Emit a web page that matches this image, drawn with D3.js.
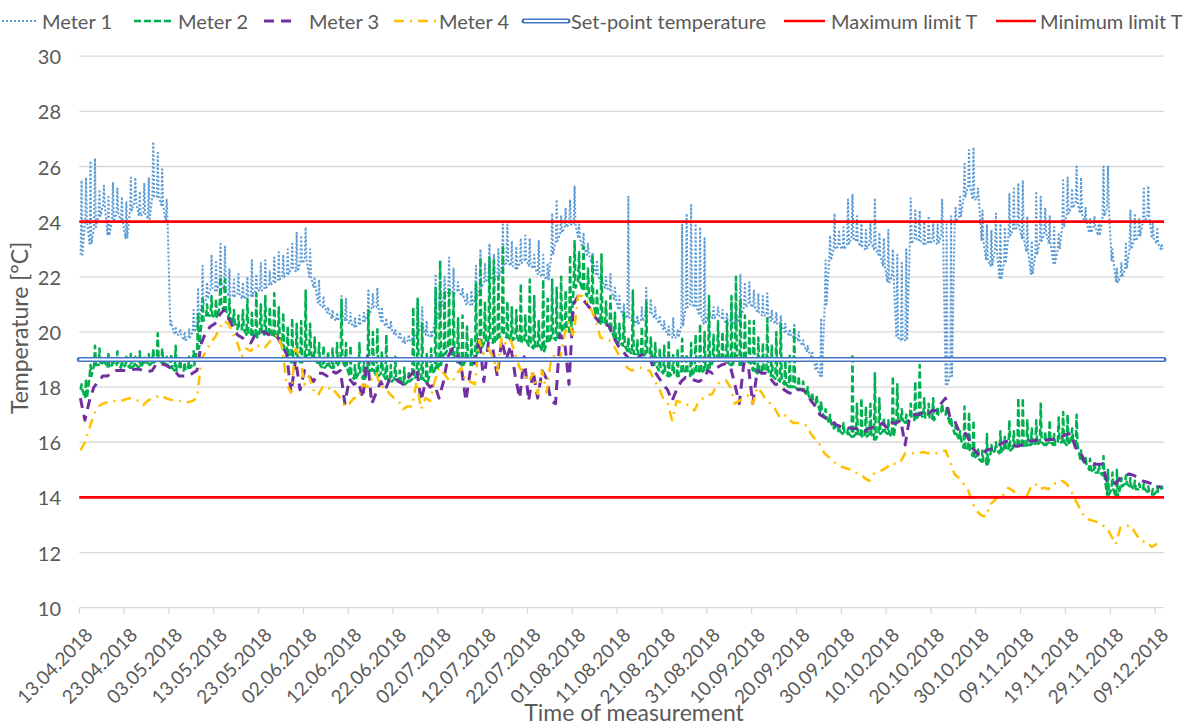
<!DOCTYPE html>
<html>
<head>
<meta charset="utf-8">
<title>Temperature measurements</title>
<script src="https://cdn.jsdelivr.net/npm/d3@7"></script>
<style>
  body { margin: 0; background: #fff; }
  text { font-family: Lato, "Open Sans", sans-serif; fill: #595959; }
</style>
</head>
<body>
<svg id="chart" width="1193" height="728"></svg>
<script>
// daily readings, first day 13.04.2018
const startDate = new Date(Date.UTC(2018, 3, 13));
const endDate = new Date(Date.UTC(2018, 11, 11));

// base reading of each day and the daytime peak
const meter1Low = [
  22.8,24.0,23.2,23.8,24.2,24.6,23.5,24.0,24.3,24.0,
  23.4,24.4,24.7,24.2,24.3,24.1,24.9,24.9,24.6,24.0,
  20.2,19.9,19.9,19.7,19.8,20.0,20.3,21.0,21.2,21.6,
  21.5,21.8,21.5,21.3,21.3,21.4,21.2,21.3,21.3,21.5,
  21.5,21.6,21.7,21.8,21.9,22.0,22.1,22.3,22.2,22.5,
  22.6,22.0,21.6,21.0,20.9,20.7,20.5,20.4,20.6,20.4,
  20.3,20.2,20.3,20.4,20.6,20.9,20.9,20.4,20.2,20.1,
  19.9,19.8,19.6,19.7,19.7,20.0,20.2,19.9,19.8,20.4,
  20.8,21.3,21.4,21.4,21.5,21.3,21.0,21.0,21.2,21.6,
  21.8,22.0,21.9,22.0,22.4,22.5,22.4,22.3,22.5,22.6,
  22.4,22.3,22.1,22.0,21.9,22.8,23.3,23.6,23.8,23.9,
  23.9,23.4,23.0,22.8,22.5,22.1,21.8,21.6,21.5,21.2,
  20.8,20.6,20.5,20.4,20.3,20.4,20.6,20.7,20.5,20.3,
  20.1,19.9,19.8,19.8,20.2,20.9,21.0,20.9,20.6,20.3,
  20.6,20.5,20.6,20.5,20.3,20.4,20.3,20.6,20.9,21.0,
  20.9,20.7,20.6,20.6,20.4,20.3,20.2,20.0,19.9,19.8,
  19.7,19.5,19.3,19.1,18.6,18.4,21.0,22.6,23.0,23.1,
  23.0,23.2,23.4,23.3,23.1,23.0,23.2,23.0,22.8,22.4,
  21.8,22.0,19.8,19.7,19.7,23.2,23.4,23.3,23.2,23.2,
  23.3,23.2,23.5,18.1,18.4,24.0,24.2,24.9,25.3,24.8,
  24.8,23.3,22.6,22.4,23.0,21.9,22.5,23.5,23.7,23.8,
  23.4,22.9,22.1,22.8,23.3,23.6,23.2,22.5,23.0,23.8,
  24.3,24.5,24.7,24.3,24.0,23.6,23.8,23.5,24.2,24.5,
  22.6,21.8,22.0,22.3,23.0,23.3,23.5,24.0,24.2,23.4,
  23.2,23.0
];
const meter1High = [
  25.5,25.6,26.2,26.3,25.1,25.3,24.9,25.4,25.2,24.9,
  24.7,25.6,25.6,25.1,25.4,25.6,26.9,26.5,25.9,24.8,
  20.4,20.2,20.1,20.0,20.1,20.8,21.6,22.4,21.8,22.8,
  22.6,23.2,23.1,22.3,21.9,22.1,21.8,22.0,22.6,22.1,
  22.5,22.6,22.2,22.7,22.9,22.8,23.0,23.2,23.6,23.5,
  23.8,23.0,22.0,21.9,21.3,20.9,20.8,20.7,21.3,21.2,
  20.7,20.5,20.6,20.7,21.5,21.4,21.6,20.9,20.5,20.4,
  20.1,20.0,19.8,19.9,20.0,21.2,20.9,20.4,20.0,22.1,
  22.6,22.0,22.7,22.3,21.8,21.6,21.4,21.5,22.4,23.0,
  22.5,23.2,22.8,23.0,23.9,23.9,23.3,23.1,23.4,23.5,
  23.4,22.8,23.3,22.8,22.5,24.3,24.8,24.2,24.5,24.8,
  25.3,23.9,23.6,23.2,22.9,22.6,22.2,22.0,22.1,21.6,
  21.3,21.0,24.9,20.8,20.6,20.9,21.6,21.2,20.9,20.6,
  20.4,20.2,20.5,20.1,23.9,24.3,24.6,24.0,23.8,23.4,
  21.0,20.9,20.9,20.8,20.7,21.0,20.8,22.1,21.8,21.8,
  21.5,21.4,21.3,21.4,20.8,20.7,20.6,20.3,20.1,20.3,
  20.0,19.7,19.5,19.3,18.9,20.5,22.6,23.5,24.3,23.7,
  23.8,24.8,25.0,24.2,24.0,23.7,24.0,24.85,23.6,23.4,
  23.7,23.0,22.8,22.5,23.0,24.85,24.4,24.4,24.0,24.2,
  24.0,23.9,24.8,23.9,24.2,24.5,24.9,26.1,26.6,26.7,
  25.2,24.4,23.9,23.7,24.3,24.0,23.8,25.0,25.2,25.4,
  25.5,24.2,23.3,25.1,24.9,24.5,24.2,23.8,23.6,25.5,
  25.6,25.2,26.0,25.6,24.5,24.1,24.2,24.0,26.0,26.0,
  23.0,22.3,22.5,23.2,24.4,24.3,24.1,25.2,25.3,24.0,
  23.8,23.2
];
const meter2Low = [
  17.9,17.6,18.4,18.8,18.8,18.9,18.7,18.8,18.8,18.7,
  18.8,18.7,18.8,18.7,18.9,18.8,18.9,19.0,18.9,18.8,
  18.7,18.6,18.7,18.6,18.7,18.8,19.4,20.4,20.6,20.6,
  20.5,20.9,20.8,20.5,20.3,20.1,20.1,19.9,19.9,19.8,
  20.0,19.9,20.0,19.8,19.8,19.4,19.2,18.9,19.0,18.9,
  19.0,19.2,19.0,18.8,18.7,18.8,18.7,18.8,19.0,18.7,
  18.4,18.3,18.5,18.3,18.6,18.6,18.4,18.5,18.3,18.2,
  18.3,18.2,18.1,18.2,18.3,18.4,18.3,18.2,18.5,18.6,
  18.8,19.2,19.4,19.1,18.9,18.8,19.0,18.8,19.2,19.4,
  19.6,19.7,19.6,19.8,19.9,19.8,19.7,19.8,19.6,19.7,
  19.5,19.4,19.5,19.3,19.6,19.8,19.7,20.0,20.2,20.0,
  21.6,21.8,21.5,21.3,21.0,20.6,20.3,20.3,20.1,19.8,
  19.6,19.5,19.3,19.2,19.2,19.1,19.2,19.2,18.8,18.6,
  18.5,18.4,18.5,18.4,18.5,18.6,18.4,18.6,18.5,18.6,
  18.7,18.9,19.0,19.1,18.9,18.8,19.0,18.8,19.0,18.9,
  18.6,18.5,18.6,18.6,18.4,18.3,18.2,18.1,18.0,18.0,
  17.9,17.9,17.7,17.5,17.4,17.1,16.9,16.7,16.5,16.4,
  16.3,16.3,16.2,16.3,16.2,16.2,16.3,16.1,16.3,16.4,
  16.3,16.2,16.8,16.8,16.7,16.9,16.8,17.0,16.9,16.9,
  16.8,17.0,17.1,17.0,16.6,16.3,16.1,15.8,15.7,15.5,
  15.4,15.3,15.2,15.6,15.7,15.6,15.8,15.7,15.8,15.9,
  15.8,15.9,15.9,15.9,16.0,15.9,16.0,15.9,16.0,16.0,
  15.9,16.1,15.9,15.4,15.2,15.0,14.9,14.9,14.8,14.1,
  14.3,14.0,14.4,14.5,14.4,14.3,14.3,14.3,14.2,14.1,
  14.2,14.3
];
const meter2High = [
  18.1,18.3,18.8,19.5,19.4,19.1,19.2,19.1,19.3,19.0,
  19.1,19.2,19.1,19.3,19.1,19.2,19.4,19.95,19.4,19.1,
  19.2,19.5,19.0,18.9,19.1,19.3,20.7,21.2,21.0,21.3,
  21.2,22.0,21.9,21.2,20.8,20.6,20.8,21.2,20.7,21.4,
  21.0,21.3,20.9,21.4,20.9,20.7,20.2,20.5,20.3,20.4,
  21.5,20.3,19.8,19.6,19.5,19.3,19.4,19.6,21.2,19.6,
  19.5,18.8,19.6,19.0,20.8,20.0,20.1,19.3,19.9,18.8,
  19.1,18.6,18.7,18.5,20.9,21.2,20.3,19.2,19.4,21.6,
  22.6,21.5,21.6,21.4,20.5,20.6,20.2,19.8,21.8,22.7,
  21.1,22.7,22.6,22.0,23.15,21.1,20.9,20.8,21.75,20.6,
  21.9,21.3,20.4,21.9,21.2,21.9,21.6,22.0,21.5,22.8,
  23.3,22.9,23.1,22.3,22.8,21.5,22.85,21.1,21.3,20.7,
  20.3,20.7,19.8,21.5,19.7,20.2,21.1,19.8,19.6,19.4,
  19.5,19.7,19.2,19.4,19.75,19.2,19.6,19.9,20.3,20.0,
  21.3,19.9,20.4,20.0,20.4,21.3,22.0,21.2,20.6,20.4,
  20.4,19.8,19.6,20.5,19.5,20.0,20.3,19.0,19.2,20.1,
  18.4,18.2,18.0,17.8,17.7,17.5,17.2,17.0,16.8,16.6,
  16.7,16.5,19.2,17.4,17.6,17.3,17.4,18.5,17.6,16.9,
  16.8,18.4,18.1,17.2,17.0,17.4,18.2,18.8,17.6,17.4,
  17.6,17.3,17.4,17.3,16.9,16.6,16.4,17.3,17.1,16.8,
  15.8,15.7,16.3,15.9,16.0,16.4,16.2,16.8,16.4,17.6,
  17.6,16.8,16.5,16.8,17.4,16.4,16.8,16.3,16.9,17.1,
  17.0,16.5,17.0,15.7,15.5,15.4,15.3,15.2,15.5,15.0,
  14.9,15.0,14.7,14.8,14.7,14.6,14.5,14.5,14.4,14.3,
  14.4,14.4
];
const meter3 = [
  17.6,16.8,17.5,18.0,18.2,18.4,18.4,18.5,18.6,18.6,
  18.6,18.6,18.65,18.65,18.6,18.55,18.6,18.85,18.85,18.8,
  18.7,18.6,18.4,18.4,18.4,18.5,18.6,19.6,20.0,20.2,
  20.3,20.6,20.8,20.5,20.2,19.9,19.8,19.7,19.6,19.9,
  20.0,20.0,19.9,20.0,19.8,19.5,19.2,17.8,19.0,17.9,
  18.6,18.4,18.2,18.5,18.5,18.4,18.6,18.5,18.6,17.4,
  18.3,18.1,18.2,17.6,19.1,17.4,17.8,18.2,17.9,18.3,
  18.35,18.2,18.1,18.3,18.5,18.7,17.5,18.2,18.0,18.1,
  17.6,18.2,19.1,19.4,19.2,18.7,17.5,18.6,18.9,19.8,
  18.2,19.6,19.4,18.4,19.7,19.0,19.5,18.4,17.6,19.1,
  17.5,18.6,17.6,18.6,18.3,17.5,17.4,19.9,19.7,18.1,
  21.0,21.3,21.2,21.0,20.8,20.5,20.3,20.3,20.2,19.8,
  19.5,19.3,19.1,18.9,19.0,19.15,19.2,19.1,18.6,18.35,
  18.1,17.9,17.5,17.9,18.2,18.35,18.3,18.25,18.2,18.3,
  18.6,18.5,18.7,18.8,18.85,18.75,18.1,17.4,18.85,18.8,
  17.4,18.6,18.5,18.5,18.3,18.1,18.1,17.9,17.8,17.75,
  17.9,17.9,17.8,17.5,17.3,17.0,16.9,16.8,16.7,16.6,
  16.55,16.55,16.5,16.5,16.4,16.4,16.5,16.55,16.6,16.7,
  16.5,16.7,16.7,16.8,15.9,16.9,17.0,17.0,17.1,17.0,
  17.15,17.15,17.4,17.6,16.9,16.8,16.4,16.4,16.2,15.8,
  15.6,15.5,15.7,15.75,15.8,15.9,16.0,16.05,15.9,15.85,
  15.9,16.05,16.05,16.05,16.1,16.05,16.1,16.1,16.15,16.2,
  16.3,16.3,15.8,15.7,15.3,15.25,15.2,15.2,15.2,14.6,
  14.6,14.5,14.7,14.8,14.85,14.8,14.7,14.6,14.55,14.5,
  14.35,14.4
];
const meter4 = [
  15.7,16.0,16.5,17.0,17.3,17.4,17.45,17.5,17.5,17.5,
  17.55,17.6,17.55,17.5,17.35,17.5,17.6,17.65,17.7,17.6,
  17.55,17.5,17.5,17.5,17.45,17.5,17.6,19.0,19.3,19.6,
  19.8,20.1,20.4,20.3,19.95,19.6,19.1,19.4,19.3,19.5,
  19.5,19.4,19.6,19.8,19.9,19.45,18.1,17.8,19.4,19.1,
  18.1,18.4,17.9,17.7,18.0,17.9,18.0,17.8,17.6,17.3,
  17.4,17.6,17.6,18.1,18.0,18.3,18.5,18.0,18.0,17.75,
  17.6,17.5,17.2,17.3,17.3,18.2,17.2,17.6,17.5,18.2,
  18.7,18.5,18.3,18.2,18.5,18.7,18.2,18.2,18.1,19.7,
  19.2,19.4,19.1,18.6,19.8,19.55,19.7,19.2,18.7,18.5,
  18.2,18.5,17.75,18.6,17.8,19.0,19.2,19.0,19.9,20.4,
  19.8,21.3,21.3,21.1,20.8,20.4,19.8,19.75,19.7,19.5,
  19.2,19.1,18.7,18.6,18.65,18.7,18.6,18.6,18.25,18.0,
  17.6,17.4,16.8,17.5,17.45,17.4,17.3,17.15,17.5,17.6,
  17.7,17.75,18.1,18.2,18.25,18.0,17.4,17.5,17.6,17.7,
  17.4,18.0,17.8,17.5,17.4,17.2,16.9,17.0,16.85,16.7,
  16.7,16.65,16.6,16.3,16.1,15.9,15.6,15.45,15.3,15.2,
  15.1,15.05,15.0,14.9,14.85,14.7,14.6,14.85,14.9,15.0,
  15.1,15.25,15.2,15.3,15.6,15.6,15.6,15.6,15.65,15.6,
  15.6,15.6,15.65,15.7,15.3,14.85,14.7,14.5,14.3,13.8,
  13.5,13.35,13.3,13.75,13.9,14.1,14.1,14.35,14.25,14.1,
  14.0,14.0,14.35,14.5,14.3,14.35,14.3,14.5,14.5,14.6,
  14.5,14.25,13.9,13.6,13.3,13.2,13.15,13.1,13.0,12.9,
  12.6,12.3,12.9,12.9,13.0,12.8,12.55,12.4,12.4,12.2,
  12.3,12.4
];
const setPoint = 19;
const maxLimit = 24;
const minLimit = 14;
const yTicks = [10, 12, 14, 16, 18, 20, 22, 24, 26, 28, 30];

const svg = d3.select('#chart');
const plotLeft = 79.3, plotRight = 1164, plotTop = 56.2, plotBottom = 607.7;

const x = d3.scaleUtc().domain([startDate, endDate]).range([plotLeft, plotRight]);
const y = d3.scaleLinear().domain([10, 30]).range([plotBottom, plotTop]);
const dayMs = 864e5;

// grid lines
svg.append('g').selectAll('line').data(yTicks).join('line')
  .attr('x1', plotLeft).attr('x2', plotRight)
  .attr('y1', d => y(d)).attr('y2', d => y(d))
  .attr('stroke', '#d9d9d9').attr('stroke-width', 1.3);

svg.append('g').selectAll('text').data(yTicks).join('text')
  .attr('x', 61).attr('y', d => y(d))
  .attr('text-anchor', 'end').attr('dominant-baseline', 'central')
  .style('font-size', '20px')
  .text(d => d);

// x axis ticks and labels
const xTicks = d3.utcDay.range(startDate, endDate, 10);
const fmt = d3.utcFormat('%d.%m.%Y');
svg.append('g').selectAll('line').data(xTicks).join('line')
  .attr('x1', d => x(d)).attr('x2', d => x(d))
  .attr('y1', plotBottom).attr('y2', plotBottom + 6)
  .attr('stroke', '#d9d9d9').attr('stroke-width', 1.3);
svg.append('g').selectAll('text').data(xTicks).join('text')
  .attr('transform', d => `translate(${x(d) + 5},${plotBottom + 19}) rotate(-45)`)
  .attr('text-anchor', 'end').attr('dy', '0.71em')
  .style('font-size', '19px')
  .text(d => fmt(d));

// series
const line = d3.line().x(p => x(p[0])).y(p => y(p[1]));
// each day: base reading, short daytime peak, back to base
function spiky(lo, hi) {
  const pts = [];
  lo.forEach((v, i) => {
    const t = startDate.getTime() + i * dayMs;
    pts.push([new Date(t + dayMs * 0.3), v]);
    pts.push([new Date(t + dayMs * 0.5), hi[i]]);
    pts.push([new Date(t + dayMs * 0.7), v]);
  });
  return pts;
}
function daily(vals) {
  return vals.map((v, i) => [new Date(startDate.getTime() + i * dayMs + dayMs / 4), v]);
}

const series = [
  { name: 'Meter 1', pts: spiky(meter1Low, meter1High), color: '#5b9bd5', width: 2, dash: '2 2' },
  { name: 'Meter 2', pts: spiky(meter2Low, meter2High), color: '#00b050', width: 2.5, dash: '7 3' },
  { name: 'Meter 3', pts: daily(meter3), color: '#7030a0', width: 3, dash: '10 7' },
  { name: 'Meter 4', pts: daily(meter4), color: '#ffc000', width: 2.5, dash: '10 6 2 6' }
];

series.forEach(s => {
  svg.append('path')
    .attr('d', line(s.pts))
    .attr('fill', 'none')
    .attr('stroke', s.color)
    .attr('stroke-width', s.width)
    .attr('stroke-dasharray', s.dash)
    .attr('stroke-linejoin', 'round');
});

// set-point (double line) and limits
svg.append('line').attr('x1', plotLeft).attr('x2', plotRight)
  .attr('y1', y(setPoint)).attr('y2', y(setPoint))
  .attr('stroke', '#4472c4').attr('stroke-width', 5).attr('stroke-linecap', 'round');
svg.append('line').attr('x1', plotLeft).attr('x2', plotRight)
  .attr('y1', y(setPoint)).attr('y2', y(setPoint))
  .attr('stroke', '#fff').attr('stroke-width', 2);
[maxLimit, minLimit].forEach(v => {
  svg.append('line').attr('x1', plotLeft).attr('x2', plotRight)
    .attr('y1', y(v)).attr('y2', y(v))
    .attr('stroke', '#ff0000').attr('stroke-width', 2.6);
});

// legend
const legend = [
  { name: 'Meter 1', x0: 2, x1: 37, tx: 42, color: '#5b9bd5', width: 2, dash: '2 2' },
  { name: 'Meter 2', x0: 134, x1: 174, tx: 178, color: '#00b050', width: 2.5, dash: '7 3' },
  { name: 'Meter 3', x0: 264, x1: 297, tx: 309, color: '#7030a0', width: 3, dash: '10 7' },
  { name: 'Meter 4', x0: 394, x1: 436, tx: 439, color: '#ffc000', width: 2.5, dash: '10 6 2 6' },
  { name: 'Set-point temperature', x0: 524, x1: 568, tx: 571, color: '#4472c4', width: 5, double: true },
  { name: 'Maximum limit T', x0: 784, x1: 825, tx: 831, color: '#ff0000', width: 2.6 },
  { name: 'Minimum limit T', x0: 996, x1: 1036, tx: 1040, color: '#ff0000', width: 2.6 }
];
const ly = 21;
legend.forEach(l => {
  svg.append('line').attr('x1', l.x0).attr('x2', l.x1).attr('y1', ly).attr('y2', ly)
    .attr('stroke', l.color).attr('stroke-width', l.width)
    .attr('stroke-dasharray', l.dash || null)
    .attr('stroke-linecap', l.double ? 'round' : 'butt');
  if (l.double) {
    svg.append('line').attr('x1', l.x0).attr('x2', l.x1).attr('y1', ly).attr('y2', ly)
      .attr('stroke', '#fff').attr('stroke-width', 2);
  }
  svg.append('text').attr('x', l.tx).attr('y', ly)
    .attr('dominant-baseline', 'central')
    .style('font-size', '20px')
    .text(l.name);
});

// axis titles
svg.append('text')
  .attr('transform', `translate(19,${(plotTop + plotBottom) / 2 - 4}) rotate(-90)`)
  .attr('text-anchor', 'middle').attr('dominant-baseline', 'central')
  .style('font-size', '23px')
  .text('Temperature [°C]');
svg.append('text')
  .attr('x', 634).attr('y', 712)
  .attr('text-anchor', 'middle').attr('dominant-baseline', 'central')
  .style('font-size', '23px')
  .text('Time of measurement');
</script>
</body>
</html>
